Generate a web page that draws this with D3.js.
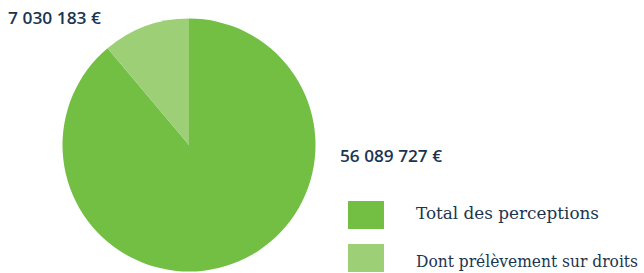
<!DOCTYPE html>
<html>
<head>
<meta charset="utf-8">
<script src="https://cdn.jsdelivr.net/npm/d3@7"></script>
<style>
  html, body { margin: 0; padding: 0; background: #fff; }
  svg { display: block; }
</style>
</head>
<body>
<svg id="chart" width="644" height="273"></svg>
<script>
const categories = ["Total des perceptions", "Dont prélèvement sur droits"];
const values = [56089727, 7030183];
const valueLabels = ["56 089 727 €", "7 030 183 €"];
const colors = ["#72bf44", "#9dcf76"];

const svg = d3.select("#chart");
const cx = 189, cy = 145, r = 126.5;
const textColor = "#1b3550";

const pie = d3.pie().sort(null).value(d => d).startAngle(0).endAngle(2 * Math.PI);
const arcs = pie(values);
const arc = d3.arc().innerRadius(0).outerRadius(r);

const g = svg.append("g").attr("transform", `translate(${cx},${cy})`);
g.selectAll("path").data(arcs).enter().append("path")
  .attr("d", arc)
  .attr("fill", (d, i) => colors[i]);

// value labels
const labelPos = [[340, 161.5], [8, 24]];
const labelWidths = [102, 93];
svg.selectAll("text.val").data(valueLabels).enter().append("text")
  .attr("class", "val")
  .attr("x", (d, i) => labelPos[i][0])
  .attr("y", (d, i) => labelPos[i][1])
  .attr("font-family", "'Open Sans', sans-serif")
  .attr("font-size", 16)
  .attr("font-weight", 600)
  .attr("fill", textColor)
  .attr("textLength", (d, i) => labelWidths[i])
  .attr("lengthAdjust", "spacingAndGlyphs")
  .text(d => d);

// legend
const legY = [201, 244];
const leg = svg.selectAll("g.leg").data(categories).enter().append("g").attr("class", "leg");
leg.append("rect")
  .attr("x", 348).attr("y", (d, i) => legY[i])
  .attr("width", 36).attr("height", 28)
  .attr("fill", (d, i) => colors[i]);
const legWidths = [183, 222];
leg.append("text")
  .attr("x", 416)
  .attr("y", (d, i) => [218.5, 266.5][i])
  .attr("font-family", "'DejaVu Serif', serif")
  .attr("font-size", 16)
  .attr("fill", textColor)
  .attr("textLength", (d, i) => legWidths[i])
  .attr("lengthAdjust", "spacingAndGlyphs")
  .text(d => d);
</script>
</body>
</html>
